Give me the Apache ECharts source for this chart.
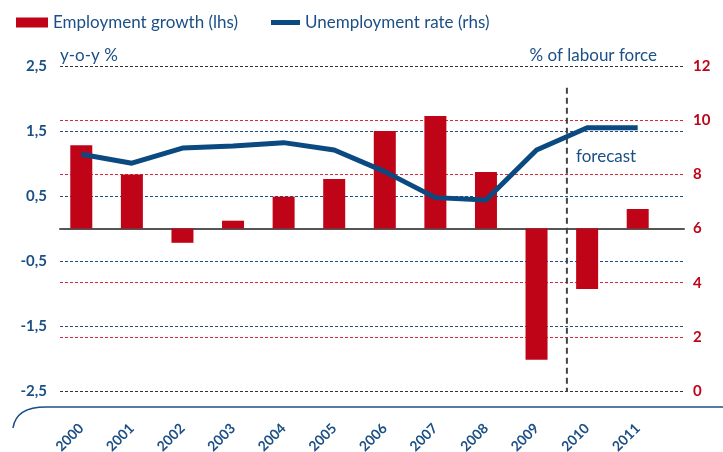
<!DOCTYPE html>
<html lang="en">
  <head>
    <meta charset="UTF-8" />
    <title>Employment growth and unemployment rate</title>
    <script src="https://cdn.jsdelivr.net/npm/echarts@6/dist/echarts.min.js"></script>
    <style>
      html, body { margin: 0; padding: 0; background: #fff; }
      #chart { width: 723px; height: 452px; }
    </style>
  </head>
  <body>
    <div id="chart"></div>

    <script>
      const years = ["2000", "2001", "2002", "2003", "2004", "2005", "2006", "2007", "2008", "2009", "2010", "2011"];
      // y-o-y %, left axis
      const employmentGrowth = [1.28, 0.83, -0.22, 0.12, 0.49, 0.76, 1.5, 1.73, 0.87, -2.02, -0.93, 0.3];
      // % of labour force, right axis
      const unemploymentRate = [8.74, 8.41, 8.97, 9.05, 9.17, 8.9, 8.1, 7.14, 7.05, 8.9, 9.72, 9.72];
      // forecast starts between 2009 and 2010 (category index)
      const forecastAt = 9.6;

      const navy = "#1b4f86";
      const red = "#c00418";
      const lineBlue = "#0b4a80";
      const dark = "#333";
      const font = "Lato";

      const chart = echarts.init(document.getElementById("chart"));

      // left axis: ticks every 0,5, labels only on the ,5 values
      const leftSplitColors = [dark, "transparent", navy, "transparent", navy, "transparent",
        navy, "transparent", navy, "transparent", dark];
      const rightSplitColors = [dark, "#d8283a", "#d8283a", "transparent", "#d8283a", "#d8283a", dark];

      const legendText = { fontSize: 17, color: navy, fontFamily: font };

      chart.setOption({
        animation: false,
        textStyle: { fontFamily: font },
        legend: [
          {
            data: [{ name: "Employment growth (lhs)", icon: "rect" }],
            left: 11,
            top: 9,
            itemWidth: 32,
            itemHeight: 10,
            textStyle: legendText
          },
          {
            data: [{ name: "Unemployment rate (rhs)", icon: "rect" }],
            left: 266,
            top: 9,
            itemWidth: 29,
            itemHeight: 5,
            textStyle: legendText
          }
        ],
        grid: [
          { left: 56, right: 60, top: 66, bottom: 61, outerBoundsMode: "none" },
          { left: 60, right: 39, top: 66, bottom: 61, outerBoundsMode: "none" }
        ],
        xAxis: [
          {
            type: "category",
            data: years,
            gridIndex: 0,
            axisLine: { show: false },
            axisTick: { show: false },
            axisLabel: {
              rotate: 45,
              margin: 35,
              color: navy,
              fontWeight: "bold",
              fontSize: 14,
              fontFamily: font
            }
          },
          { type: "value", gridIndex: 0, min: -0.5, max: 11.5, show: false },
          {
            type: "value",
            gridIndex: 1,
            min: 0,
            max: 1,
            axisLine: { show: true, onZero: true, onZeroAxisIndex: 2, lineStyle: { color: "#555", width: 2 } },
            axisTick: { show: false },
            axisLabel: { show: false },
            splitLine: { show: false }
          }
        ],
        yAxis: [
          { type: "value", gridIndex: 0, min: -2.5, max: 2.5, show: false },
          { type: "value", gridIndex: 0, min: 0, max: 12, show: false },
          {
            type: "value",
            gridIndex: 1,
            position: "left",
            min: -2.5,
            max: 2.5,
            interval: 0.5,
            name: "y-o-y %",
            nameGap: 2,
            nameTextStyle: { align: "left", verticalAlign: "bottom", fontSize: 17, color: navy, fontFamily: font },
            axisLine: { show: false },
            axisTick: { show: false },
            axisLabel: {
              margin: 13,
              color: navy,
              fontWeight: "bold",
              fontSize: 15,
              fontFamily: font,
              formatter: (v) => (Math.round(v * 2) % 2 !== 0 ? v.toFixed(1).replace(".", ",") : "")
            },
            splitLine: { show: true, lineStyle: { color: leftSplitColors, type: [3, 2], width: 1 } }
          },
          {
            type: "value",
            gridIndex: 1,
            position: "right",
            min: 0,
            max: 12,
            interval: 2,
            name: "% of labour force",
            nameGap: 2,
            nameTextStyle: {
              align: "right",
              verticalAlign: "bottom",
              fontSize: 17,
              color: navy,
              fontFamily: font,
              padding: [0, 27, 0, 0]
            },
            axisLine: { show: false },
            axisTick: { show: false },
            axisLabel: { margin: 9, color: red, fontWeight: "bold", fontSize: 15, fontFamily: font },
            splitLine: { show: true, lineStyle: { color: rightSplitColors, type: [3, 2], width: 1 } }
          }
        ],
        graphic: [
          {
            type: "text",
            left: 576,
            top: 148,
            style: { text: "forecast", fill: navy, fontSize: 17, fontFamily: font }
          },
          {
            type: "bezierCurve",
            shape: { x1: 13, y1: 428, cpx1: 16, cpy1: 407, x2: 46, y2: 407 },
            style: { fill: "none", stroke: navy, lineWidth: 1.5 }
          },
          {
            type: "line",
            shape: { x1: 46, y1: 407, x2: 723, y2: 407 },
            style: { stroke: navy, lineWidth: 1.5 }
          }
        ],
        series: [
          {
            name: "Employment growth (lhs)",
            type: "bar",
            xAxisIndex: 0,
            yAxisIndex: 0,
            data: employmentGrowth,
            barWidth: 22,
            itemStyle: { color: red }
          },
          {
            name: "forecast",
            type: "line",
            xAxisIndex: 1,
            yAxisIndex: 1,
            data: [[forecastAt, 11.2], [forecastAt, -0.15]],
            symbol: "none",
            lineStyle: { color: "#444", width: 2, type: [6, 4] },
            silent: true
          },
          {
            name: "Unemployment rate (rhs)",
            type: "line",
            xAxisIndex: 0,
            yAxisIndex: 1,
            data: unemploymentRate,
            symbol: "none",
            lineStyle: { color: lineBlue, width: 5 },
            itemStyle: { color: lineBlue }
          }
        ]
      });
    </script>
  </body>
</html>
